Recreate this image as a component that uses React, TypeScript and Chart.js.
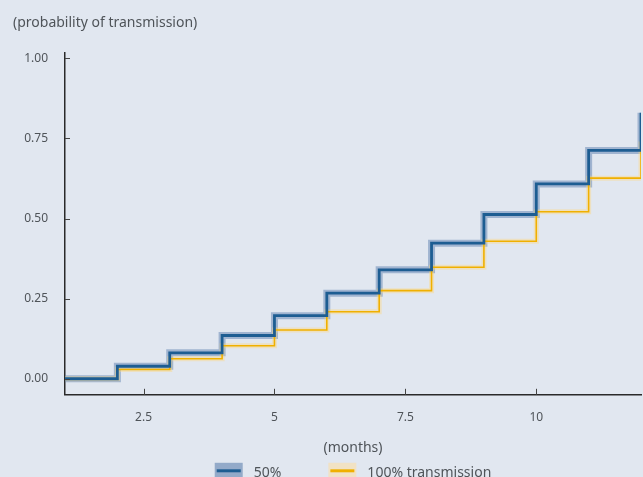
import { useEffect, useRef } from "react";
import { Chart, registerables } from "chart.js";

Chart.register(...registerables);

// Months since start of exposure
const months = [1, 2, 3, 4, 5, 6, 7, 8, 9, 10, 11, 12];
// Cumulative probability of transmission, 50% scenario
const halfTransmission = [0, 0.039, 0.081, 0.135, 0.197, 0.267, 0.34, 0.423, 0.5125, 0.608, 0.7125, 0.83];
// Cumulative probability of transmission, 100% scenario
const fullTransmission = [0, 0.029, 0.0625, 0.103, 0.152, 0.209, 0.275, 0.348, 0.429, 0.521, 0.626, 0.74];
const xTickValues = [2.5, 5, 7.5, 10];
const yTickValues = [0, 0.25, 0.5, 0.75, 1];
const seriesNames = ["50%", "100% transmission"];
const yAxisTitle = "(probability of transmission)";
const xAxisTitle = "(months)";

const BG = "#e1e7f0";
const TEXT = "#4f5459";
const BLUE = "#1d5d92";
const BLUE_BAND = "rgba(95,130,175,0.5)";
const YELLOW = "#f0b000";
const YELLOW_GLOW = "rgba(255,214,120,0.4)";
const FONT = "'Noto Sans', sans-serif";

const points = (vals: number[]) => months.map((m, i) => ({ x: m, y: vals[i] }));

// Inward tick marks plus a bottom legend with band swatches
const decorPlugin = {
  id: "decor",
  afterDraw(chart: any) {
    const { ctx, chartArea, scales } = chart;
    const x = scales.x;
    const y = scales.y;
    ctx.save();
    ctx.strokeStyle = "#444";
    ctx.lineWidth = 1;
    ctx.beginPath();
    xTickValues.forEach((v) => {
      const px = Math.round(x.getPixelForValue(v)) + 0.5;
      ctx.moveTo(px, chartArea.bottom);
      ctx.lineTo(px, chartArea.bottom - 6);
    });
    yTickValues.forEach((v) => {
      const py = Math.round(y.getPixelForValue(v)) + 0.5;
      ctx.moveTo(chartArea.left, py);
      ctx.lineTo(chartArea.left + 5, py);
    });
    ctx.stroke();

    // legend
    ctx.font = `14px ${FONT}`;
    ctx.textBaseline = "middle";
    ctx.textAlign = "left";
    const boxW = 28;
    const boxH = 16;
    const textGap = 11;
    const itemGap = 47;
    const widths = seriesNames.map((s) => ctx.measureText(s).width);
    const total = boxW * 2 + textGap * 2 + widths[0] + widths[1] + itemGap;
    const cx = (chartArea.left + chartArea.right) / 2;
    let lx = cx - total / 2;
    const top = chartArea.bottom + 68;
    const swatches = [
      { fill: "rgba(95,130,175,0.6)", line: BLUE, lw: 3 },
      { fill: "rgba(255,222,160,0.55)", line: YELLOW, lw: 3 },
    ];
    seriesNames.forEach((name, i) => {
      const sw = swatches[i];
      ctx.fillStyle = sw.fill;
      ctx.fillRect(lx, top, boxW, boxH);
      ctx.strokeStyle = sw.line;
      ctx.lineWidth = sw.lw;
      ctx.beginPath();
      ctx.moveTo(lx + 2, top + boxH / 2);
      ctx.lineTo(lx + boxW - 2, top + boxH / 2);
      ctx.stroke();
      ctx.fillStyle = TEXT;
      ctx.fillText(name, lx + boxW + textGap, top + boxH / 2 + 2);
      lx += boxW + textGap + widths[i] + itemGap;
    });
    ctx.restore();
  },
};

export default function App() {
  const canvasRef = useRef<HTMLCanvasElement | null>(null);

  useEffect(() => {
    if (!canvasRef.current) return;
    const chart = new Chart(canvasRef.current, {
      type: "line",
      data: {
        datasets: [
          {
            label: "50% band",
            data: points(halfTransmission),
            stepped: true,
            borderColor: BLUE_BAND,
            borderWidth: 7,
            pointRadius: 0,
            order: 4,
          },
          {
            label: "100% glow",
            data: points(fullTransmission),
            stepped: true,
            borderColor: YELLOW_GLOW,
            borderWidth: 5,
            pointRadius: 0,
            order: 3,
          },
          {
            label: seriesNames[1],
            data: points(fullTransmission),
            stepped: true,
            borderColor: YELLOW,
            borderWidth: 1.6,
            pointRadius: 0,
            order: 2,
          },
          {
            label: seriesNames[0],
            data: points(halfTransmission),
            stepped: true,
            borderColor: BLUE,
            borderWidth: 2.8,
            pointRadius: 0,
            order: 1,
          },
        ],
      },
      options: {
        animation: false,
        responsive: false,
        maintainAspectRatio: false,
        layout: { padding: { left: 13, right: 2, bottom: 21, top: 0 } },
        plugins: {
          legend: { display: false },
          tooltip: { enabled: false },
          title: {
            display: true,
            text: yAxisTitle,
            align: "start",
            color: TEXT,
            font: { family: FONT, size: 14, weight: "normal" },
            padding: { top: 15, bottom: 21 },
          },
        },
        scales: {
          x: {
            type: "linear",
            min: 1,
            max: 12,
            afterBuildTicks: (s: any) => {
              s.ticks = xTickValues.map((v) => ({ value: v }));
            },
            grid: { display: false, drawTicks: false },
            border: { display: true, color: "#2a2a2a", width: 1.5 },
            ticks: {
              color: TEXT,
              padding: 16,
              maxRotation: 0,
              font: { family: FONT, size: 12 },
              callback: (v: any) => String(v),
            },
            title: {
              display: true,
              text: xAxisTitle,
              color: TEXT,
              font: { family: FONT, size: 14 },
              padding: { top: -2, bottom: 0 },
            },
          },
          y: {
            type: "linear",
            min: -0.05,
            max: 1.017,
            afterBuildTicks: (s: any) => {
              s.ticks = yTickValues.map((v) => ({ value: v }));
            },
            afterFit: (s: any) => {
              s.width = 52;
            },
            grid: { display: false, drawTicks: false },
            border: { display: true, color: "#2a2a2a", width: 1.5 },
            ticks: {
              color: TEXT,
              padding: 17,
              font: { family: FONT, size: 12 },
              callback: (v: any) => Number(v).toFixed(2),
            },
          },
        },
      },
      plugins: [decorPlugin],
    });
    return () => chart.destroy();
  }, []);

  return (
    <div
      style={{
        position: "fixed",
        left: 0,
        top: 0,
        width: 643,
        height: 477,
        overflow: "hidden",
        background: BG,
      }}
    >
      <canvas ref={canvasRef} width={643} height={477} style={{ display: "block" }} />
    </div>
  );
}
